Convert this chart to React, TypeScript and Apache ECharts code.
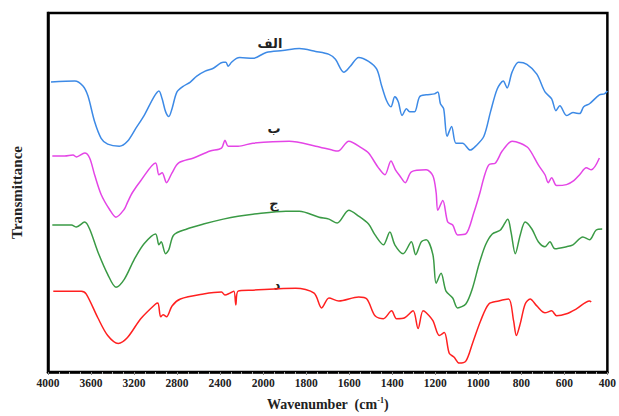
import React, { useEffect, useRef } from "react";
import * as echarts from "echarts";

// Wavenumber (cm-1) and transmittance (arbitrary units, offset spectra)
const seriesNames = ["الف", "ب", "ج", "د"];
const seriesColors = ["#3d8ae6", "#e445e6", "#3a9a45", "#ff2020"];

const specA: [number, number][] = [
  [3972, 294], [3751, 295], [3675, 290], [3629, 280], [3567, 254], [3506, 237], [3445, 231],
  [3337, 229], [3261, 234], [3184, 247], [3107, 260], [3015, 279], [2969, 285], [2939, 277],
  [2907, 264], [2877, 259], [2847, 267], [2801, 284], [2739, 290], [2677, 294], [2617, 300],
  [2539, 305], [2463, 308], [2371, 314], [2346, 314], [2325, 310], [2294, 314], [2248, 318],
  [2217, 319], [2095, 318], [1986, 324], [1909, 326], [1832, 328], [1756, 325], [1694, 322],
  [1664, 317], [1625, 304], [1595, 310], [1556, 319], [1510, 315], [1472, 307], [1449, 290],
  [1426, 275], [1406, 269], [1388, 279], [1372, 274], [1354, 260], [1334, 267], [1319, 264],
  [1296, 264], [1273, 279], [1242, 281], [1204, 282], [1188, 284], [1176, 272], [1161, 267],
  [1145, 239], [1124, 249], [1104, 232], [1073, 232], [1038, 225], [1012, 229], [974, 239],
  [943, 264], [912, 287], [884, 295], [866, 288], [843, 304], [813, 314], [774, 312],
  [728, 302], [690, 284], [659, 277], [639, 265], [621, 270], [590, 260], [560, 263],
  [529, 262], [510, 269], [483, 272], [437, 281], [414, 282], [400, 285],
];

const specB: [number, number][] = [
  [3960, 219], [3844, 219], [3767, 220], [3736, 218], [3659, 222], [3613, 217], [3567, 200],
  [3506, 180], [3429, 165], [3368, 157], [3291, 165], [3261, 172], [3215, 182], [3138, 194],
  [3000, 212], [2969, 200], [2939, 202], [2898, 192], [2847, 202], [2785, 212], [2647, 217],
  [2493, 224], [2387, 227], [2355, 235], [2325, 229], [2233, 229], [2095, 232], [1879, 234],
  [1756, 229], [1679, 225], [1652, 224], [1602, 234], [1541, 227], [1510, 222], [1464, 207],
  [1434, 200], [1406, 214], [1385, 205], [1365, 199], [1339, 192], [1311, 203], [1242, 205],
  [1211, 199], [1196, 182], [1188, 164], [1165, 174], [1142, 152], [1119, 149], [1096, 139],
  [1058, 140], [1020, 162], [992, 182], [974, 197], [951, 210], [920, 212], [889, 224],
  [843, 234], [805, 232], [767, 227], [721, 210], [690, 200], [675, 192], [659, 197],
  [636, 189], [590, 190], [556, 194], [529, 200], [498, 207], [475, 205], [437, 217],
];

const specC: [number, number][] = [
  [3960, 149], [3782, 149], [3736, 147], [3659, 152], [3613, 145], [3537, 122], [3445, 99],
  [3368, 86], [3291, 94], [3199, 114], [3107, 130], [3000, 140], [2969, 129], [2948, 132],
  [2907, 120], [2877, 124], [2831, 139], [2709, 145], [2555, 150], [2371, 155], [2233, 158],
  [2095, 160], [1894, 163], [1832, 163], [1740, 157], [1694, 155], [1656, 151], [1602, 164],
  [1556, 158], [1510, 150], [1480, 139], [1441, 129], [1411, 142], [1388, 129], [1349, 120],
  [1311, 132], [1291, 119], [1265, 132], [1242, 134], [1211, 119], [1196, 90], [1173, 100],
  [1150, 82], [1119, 75], [1096, 65], [1058, 69], [1027, 85], [997, 109], [966, 129],
  [935, 140], [897, 144], [863, 155], [848, 142], [828, 120], [805, 139], [782, 152],
  [751, 145], [721, 132], [690, 127], [667, 132], [644, 125], [590, 127], [560, 129],
  [514, 137], [483, 134], [452, 144], [424, 145],
];

const specD: [number, number][] = [
  [3951, 82], [3690, 82], [3644, 79], [3537, 55], [3445, 37], [3347, 29], [3261, 35],
  [3138, 54], [3000, 69], [2978, 70], [2953, 56], [2930, 58], [2898, 56], [2847, 67],
  [2769, 74], [2555, 79], [2387, 81], [2355, 78], [2309, 80], [2272, 82], [2254, 68],
  [2233, 82], [2095, 83], [1848, 85], [1763, 80], [1728, 65], [1694, 75], [1648, 72],
  [1556, 76], [1518, 74], [1480, 57], [1441, 54], [1403, 62], [1380, 54], [1342, 55],
  [1303, 62], [1280, 44], [1257, 62], [1242, 60], [1211, 52], [1181, 37], [1158, 40],
  [1135, 19], [1112, 15], [1089, 9], [1058, 11], [1027, 29], [989, 52], [951, 69],
  [905, 72], [859, 74], [836, 52], [823, 37], [805, 49], [782, 69], [759, 74],
  [728, 67], [690, 60], [659, 62], [636, 57], [590, 59], [544, 64], [483, 72], [475, 71],
];

const spectra = [specA, specB, specC, specD];

// axis with scale break: region above 2000 cm-1 is compressed by factor 2
const toAxis = (w: number) => (w <= 2000 ? w : 2000 + (w - 2000) / 2);
const fromAxis = (t: number) => (t <= 2000 ? t : 2000 + (t - 2000) * 2);

const serif = "'Liberation Serif', 'DejaVu Serif', serif";
const labelFont = "bold 13px 'DejaVu Sans'";

export default function App() {
  const ref = useRef<HTMLDivElement>(null);
  useEffect(() => {
    if (!ref.current) return;
    const chart = echarts.init(ref.current, undefined, { renderer: "svg" });
    chart.setOption({
      animation: false,
      backgroundColor: "#ffffff",
      grid: {
        left: 48,
        right: 6,
        top: 13,
        bottom: 39,
        show: true,
        borderColor: "#000",
        borderWidth: 2.5,
      },
      xAxis: {
        type: "value",
        min: 400,
        max: 3000,
        interval: 200,
        inverse: true,
        name: "{b|Wavenumber  (cm}{s|-1}{b|)}",
        nameLocation: "middle",
        nameGap: 24,
        nameTextStyle: {
          rich: {
            b: { fontFamily: serif, fontWeight: "bold", fontSize: 14, color: "#222" },
            s: { fontFamily: serif, fontWeight: "bold", fontSize: 8, color: "#222", verticalAlign: "top", padding: [0, 0, 8, 0] },
          },
        },
        axisLine: { show: true, lineStyle: { color: "#000", width: 2.5 } },
        axisTick: { show: true, length: 3, lineStyle: { color: "#888" } },
        minorTick: { show: true, splitNumber: 4, length: 2, lineStyle: { color: "#aaa" } },
        splitLine: { show: false },
        axisLabel: {
          formatter: (t: number) => String(fromAxis(t)),
          fontFamily: serif,
          fontWeight: "bold",
          fontSize: 11.5,
          color: "#222",
          margin: 5,
        },
      },
      yAxis: {
        type: "value",
        min: 0,
        max: 364,
        name: "Transmittance",
        nameLocation: "middle",
        nameGap: 24,
        nameTextStyle: { fontFamily: serif, fontWeight: "bold", fontSize: 15, color: "#222" },
        axisLine: { show: true, lineStyle: { color: "#000", width: 2.5 } },
        axisTick: { show: false },
        axisLabel: { show: false },
        splitLine: { show: false },
      },
      series: spectra.map((s, i) => ({
        name: seriesNames[i],
        type: "line",
        data: s.map(([w, v]) => [toAxis(w), v]),
        showSymbol: false,
        smooth: 0.3,
        lineStyle: { color: seriesColors[i], width: 1.5 },
        itemStyle: { color: seriesColors[i] },
      })),
      graphic: [
        { type: "text", x: 270, y: 43, style: { text: "الف", font: labelFont, fill: "#222", align: "center", verticalAlign: "middle" } },
        { type: "text", x: 274, y: 128, style: { text: "ب", font: labelFont, fill: "#222", align: "center", verticalAlign: "middle" } },
        { type: "text", x: 274, y: 203, style: { text: "ج", font: labelFont, fill: "#222", align: "center", verticalAlign: "middle" } },
        { type: "text", x: 277, y: 284, style: { text: "د", font: labelFont, fill: "#222", align: "center", verticalAlign: "middle" } },
      ],
    });
    return () => chart.dispose();
  }, []);
  return (
    <div
      ref={ref}
      style={{ position: "fixed", left: 0, top: 0, width: 619, height: 416, background: "#fff" }}
    />
  );
}
